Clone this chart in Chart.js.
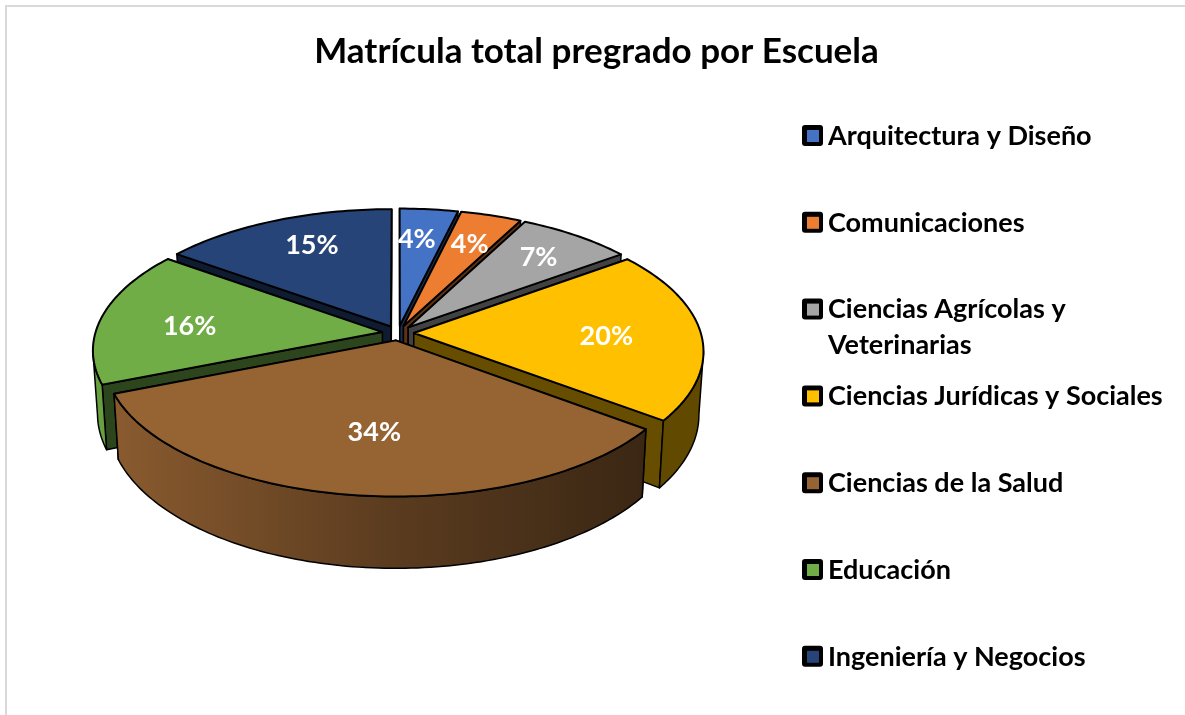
<!DOCTYPE html>
<html>
<head>
<meta charset="utf-8">
<style>
    html, body { margin: 0; padding: 0; background: #fff; overflow: hidden; }
    #wrap { position: relative; width: 1185px; height: 715px; }
    #frame { position: absolute; left: 5px; top: 5px; right: 0; bottom: 0; border-left: 2px solid #d9d9d9; border-top: 2px solid #d9d9d9; }
</style>
<script src="https://cdn.jsdelivr.net/npm/chart.js@4/dist/chart.umd.min.js"></script>
</head>
<body>
<div id="wrap">
    <div id="frame"></div>
    <canvas id="pie-chart" width="1185" height="715" style="position:absolute;left:0;top:0"></canvas>
</div>
<script>
// Chart data
const categories = ['Arquitectura y Diseño', 'Comunicaciones', 'Ciencias Agrícolas y Veterinarias', 'Ciencias Jurídicas y Sociales', 'Ciencias de la Salud', 'Educación', 'Ingeniería y Negocios'];
const shares = [3.7, 3.9, 7.3, 20.4, 33.6, 16.1, 15.0];
const sliceColors = ['#4472C4', '#ED7D31', '#A5A5A5', '#FFC000', '#966333', '#70AD47', '#264478'];

const FONT = 'Lato, Carlito, Calibri, sans-serif';

// Tilted pie: the library works out the slice angles, this maps them on the page
const view = { cx: 398, cy: 333, rx: 287, ry: 134, persp: 0.129, explode: 0.055, depth: 62, shrink: 0.985 };

// Small shifts for the percent labels
const labelNudge = [[-3, -7], [6, -6], [16, -8], [3, 3], [6, -5], [-7, 5], [0, -9]];

function project(u, v, lowered) {
    const s = 1 / (1 + view.persp * v);
    let x = u * view.rx * s;
    let y = -v * view.ry * s;
    if (lowered) {
        x *= view.shrink;
        y += view.depth * s;
    }
    return { x: view.cx + x, y: view.cy + y };
}

// Point of a slice, r from 0 (tip) to 1 (rim), at angle a
function slicePoint(arc, a, r, lowered) {
    const mid = (arc.startAngle + arc.endAngle) / 2;
    const u = Math.cos(mid) * view.explode + Math.cos(a) * r;
    const v = -Math.sin(mid) * view.explode - Math.sin(a) * r;
    return project(u, v, lowered);
}

function shade(hex, f) {
    const n = parseInt(hex.slice(1), 16);
    const c = [(n >> 16) & 255, (n >> 8) & 255, n & 255].map(function(ch) { return Math.round(ch * f); });
    return 'rgb(' + c.join(',') + ')';
}

function rimAngles(arc) {
    const steps = Math.max(4, Math.ceil((arc.endAngle - arc.startAngle) / 0.02));
    const list = [];
    for (let i = 0; i <= steps; i++) {
        list.push(arc.startAngle + (arc.endAngle - arc.startAngle) * i / steps);
    }
    return list;
}

function fillPath(ctx, points, fill) {
    ctx.beginPath();
    points.forEach(function(p, i) {
        if (i === 0) ctx.moveTo(p.x, p.y); else ctx.lineTo(p.x, p.y);
    });
    ctx.closePath();
    ctx.fillStyle = fill;
    ctx.fill();
    ctx.stroke();
}

function drawSlice(ctx, arc, color) {
    const tip = slicePoint(arc, 0, 0, false);
    const tipLow = slicePoint(arc, 0, 0, true);
    const angles = rimAngles(arc);

    ctx.strokeStyle = '#000';
    ctx.lineJoin = 'round';
    ctx.lineWidth = 1.5;

    // Cut faces, the far one first
    [arc.startAngle, arc.endAngle].sort(function(a, b) {
        return Math.sin(a) - Math.sin(b);
    }).forEach(function(a) {
        fillPath(ctx, [tip, slicePoint(arc, a, 1, false), slicePoint(arc, a, 1, true), tipLow], shade(color, 0.4));
    });

    // Outer wall, only the part facing us, gets darker to the right
    const facing = angles.filter(function(a) { return Math.sin(a) >= view.persp; });
    if (facing.length > 1) {
        const wall = ctx.createLinearGradient(view.cx - view.rx, 0, view.cx + view.rx, 0);
        wall.addColorStop(0, shade(color, 0.92));
        wall.addColorStop(0.5, shade(color, 0.6));
        wall.addColorStop(0.95, shade(color, 0.38));
        wall.addColorStop(1, shade(color, 0.38));
        const upperWall = facing.map(function(a) { return slicePoint(arc, a, 1, false); });
        const lowerWall = facing.map(function(a) { return slicePoint(arc, a, 1, true); }).reverse();
        fillPath(ctx, upperWall.concat(lowerWall), wall);
    }

    // Top face
    ctx.lineWidth = 2;
    const rim = angles.map(function(a) { return slicePoint(arc, a, 1, false); });
    fillPath(ctx, [tip].concat(rim), color);
}

const pie3d = {
    id: 'pie3d',
    beforeDatasetDraw(chart) {
        const ctx = chart.ctx;
        const arcs = chart.getDatasetMeta(0).data;
        const order = arcs.map(function(arc, i) { return i; });
        // Far slices first
        order.sort(function(a, b) {
            const ma = (arcs[a].startAngle + arcs[a].endAngle) / 2;
            const mb = (arcs[b].startAngle + arcs[b].endAngle) / 2;
            return Math.sin(ma) - Math.sin(mb);
        });
        ctx.save();
        order.forEach(function(i) {
            drawSlice(ctx, arcs[i], sliceColors[i]);
        });
        ctx.restore();
        return false;
    },
    afterDraw(chart) {
        const ctx = chart.ctx;
        const arcs = chart.getDatasetMeta(0).data;
        const total = shares.reduce(function(a, b) { return a + b; }, 0);
        ctx.save();

        // Percent labels
        ctx.fillStyle = '#fff';
        ctx.font = '700 27px ' + FONT;
        ctx.textAlign = 'center';
        ctx.textBaseline = 'middle';
        arcs.forEach(function(arc, i) {
            const mid = (arc.startAngle + arc.endAngle) / 2;
            const p = slicePoint(arc, mid, 0.66, false);
            ctx.fillText(Math.round(shares[i] / total * 100) + '%', p.x + labelNudge[i][0], p.y + labelNudge[i][1]);
        });

        // Legend
        ctx.textAlign = 'left';
        ctx.font = '700 27px ' + FONT;
        categories.forEach(function(name, i) {
            const y = 136 + i * 86.8;
            ctx.fillStyle = '#000';
            ctx.beginPath();
            ctx.roundRect(802, y - 11, 21, 21, 3);
            ctx.fill();
            ctx.fillStyle = sliceColors[i];
            ctx.fillRect(807, y - 6, 12, 12);

            // Wrap long names
            const lines = [];
            let line = '';
            name.split(' ').forEach(function(word) {
                const next = line ? line + ' ' + word : word;
                if (ctx.measureText(next).width > 345 && line) {
                    lines.push(line);
                    line = word;
                } else {
                    line = next;
                }
            });
            lines.push(line);
            ctx.fillStyle = '#000';
            lines.forEach(function(text, k) {
                ctx.fillText(text, 828, y + k * 35.5);
            });
        });
        ctx.restore();
    }
};

const pieChart = new Chart(document.getElementById('pie-chart').getContext('2d'), {
    type: 'pie',
    data: {
        labels: categories,
        datasets: [{
            data: shares,
            backgroundColor: sliceColors
        }]
    },
    options: {
        responsive: false,
        animation: false,
        layout: {
            padding: { left: 8 }
        },
        plugins: {
            legend: { display: false },
            tooltip: { enabled: false },
            title: {
                display: true,
                text: 'Matrícula total pregrado por Escuela',
                color: '#000',
                font: { family: FONT, size: 35, weight: '700' },
                padding: { top: 31, bottom: 10 }
            }
        }
    },
    plugins: [pie3d]
});
</script>
</body>
</html>
